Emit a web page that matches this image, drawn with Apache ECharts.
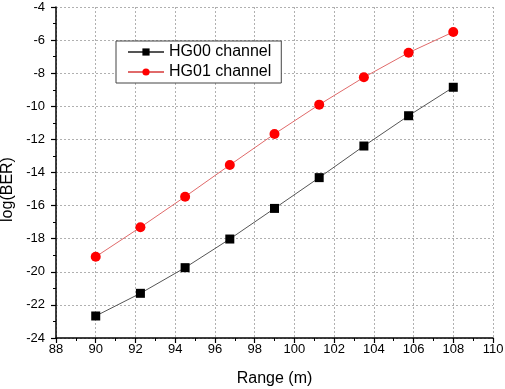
<!DOCTYPE html>
<html>
<head>
<meta charset="utf-8">
<script src="https://cdn.jsdelivr.net/npm/echarts@6/dist/echarts.min.js"></script>
<style>
  html, body { margin: 0; padding: 0; background: #fff; }
  #chart { width: 505px; height: 389px; }
</style>
</head>
<body>
<div id="chart"></div>
<script>
// data
const rangeValues = [90, 92.25, 94.5, 96.75, 99, 101.25, 103.5, 105.75, 108];
const hg00Values = [-22.67, -21.3, -19.75, -18.02, -16.17, -14.31, -12.4, -10.57, -8.85];
const hg01Values = [-19.09, -17.31, -15.46, -13.55, -11.67, -9.9, -8.25, -6.76, -5.51];
const seriesNames = ["HG00 channel", "HG01 channel"];

const chart = echarts.init(document.getElementById("chart"));

const fontName = "Liberation Sans, Arial, sans-serif";
const axisFont = { fontFamily: fontName, fontSize: 13, color: "#000" };

chart.setOption({
  animation: false,
  grid: { left: 56, right: 12, top: 7, bottom: 51, containLabel: false, outerBoundsMode: "none" },
  legend: {
    left: 116,
    top: 41,
    orient: "vertical",
    itemGap: 4,
    itemWidth: 36,
    itemHeight: 9,
    padding: [3, 10, 3, 11],
    borderColor: "#444",
    borderWidth: 1,
    borderRadius: 0,
    backgroundColor: "#fff",
    textStyle: { fontFamily: fontName, fontSize: 16, color: "#000" },
    data: seriesNames
  },
  xAxis: {
    type: "value",
    min: 88,
    max: 110,
    interval: 2,
    name: "Range (m)",
    nameLocation: "middle",
    nameGap: 33,
    nameTextStyle: { fontFamily: fontName, fontSize: 16, color: "#000" },
    axisLine: { onZero: false, lineStyle: { color: "#000", width: 1.5 } },
    axisTick: { show: true, length: 5, lineStyle: { color: "#000", width: 1.2 } },
    minorTick: { show: true, splitNumber: 2, length: 3, lineStyle: { color: "#000", width: 1 } },
    axisLabel: Object.assign({ margin: 5 }, axisFont),
    splitLine: { show: true, lineStyle: { color: "#b0b0b0", type: [2, 2], width: 1 } }
  },
  yAxis: {
    type: "value",
    min: -24,
    max: -4,
    interval: 2,
    name: "log(BER)",
    nameLocation: "middle",
    nameGap: 36,
    nameRotate: 90,
    nameTextStyle: { fontFamily: fontName, fontSize: 16, color: "#000", padding: [0, 34, 0, 0] },
    axisLine: { show: true, onZero: false, lineStyle: { color: "#000", width: 1.5 } },
    axisTick: { show: true, length: 5, lineStyle: { color: "#000", width: 1.2 } },
    minorTick: { show: true, splitNumber: 2, length: 3, lineStyle: { color: "#000", width: 1 } },
    axisLabel: Object.assign({ margin: 11 }, axisFont),
    splitLine: { show: true, lineStyle: { color: "#b0b0b0", type: [2, 2], width: 1 } }
  },
  series: [
    {
      name: seriesNames[0],
      type: "line",
      data: rangeValues.map((x, i) => [x, hg00Values[i]]),
      symbol: "rect",
      symbolSize: 9,
      itemStyle: { color: "#000" },
      lineStyle: { color: "#555", width: 1 }
    },
    {
      name: seriesNames[1],
      type: "line",
      data: rangeValues.map((x, i) => [x, hg01Values[i]]),
      symbol: "circle",
      symbolSize: 10,
      itemStyle: { color: "#ff0000" },
      lineStyle: { color: "#e06a6a", width: 1 }
    }
  ]
});
</script>
</body>
</html>
